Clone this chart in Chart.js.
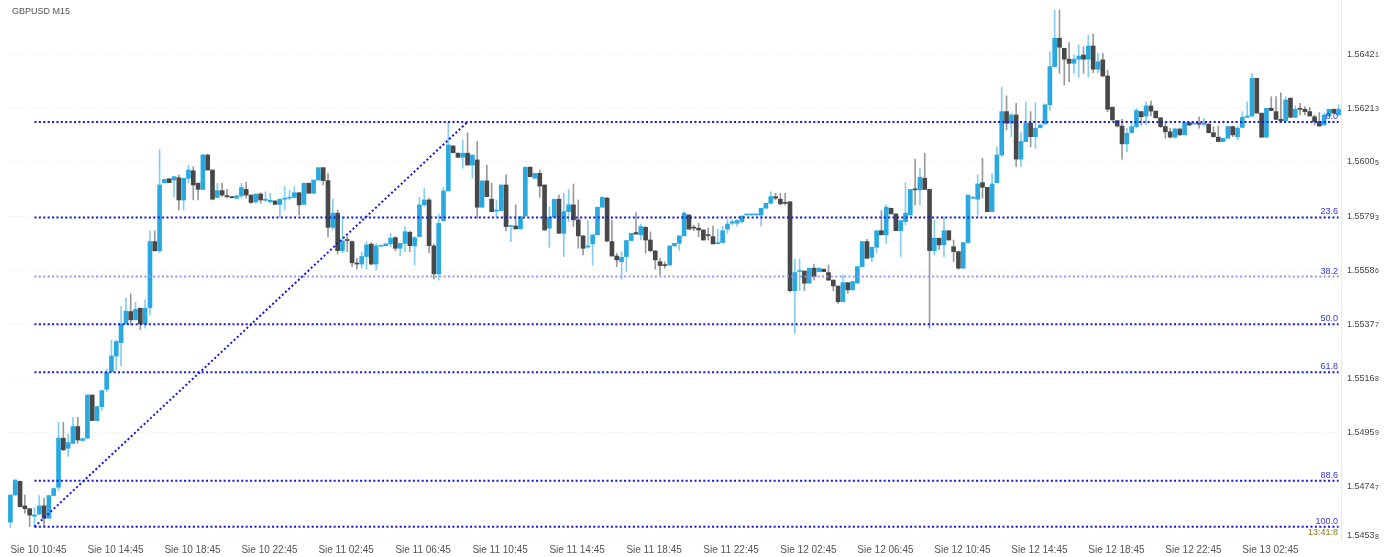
<!DOCTYPE html>
<html>
<head>
<meta charset="utf-8">
<title>GBPUSD M15</title>
<script src="https://cdn.jsdelivr.net/npm/chart.js@4/dist/chart.umd.min.js"></script>
<style>
  html, body { margin: 0; padding: 0; background: #fff; }
  #wrap { width: 1393px; height: 557px; position: relative; }
</style>
</head>
<body>
<div id="wrap"><canvas id="chart"></canvas></div>
<script>

var symbolTitle = 'GBPUSD M15';
var monthName = 'Sie';
var firstBar = { day: 10, hour: 10, minute: 45 };
var barMinutes = 15;
var labelEvery = 16;
var lastLabelBar = 256;

// OHLC of each M15 bar
var opens = [
  1.54611,1.54716,1.54769,1.54674,1.54663,1.54634,1.54642,1.54674,1.54626,1.54714,
  1.54746,1.54936,1.54897,1.54916,1.54981,1.54927,1.54936,1.55103,1.55004,1.55058,
  1.55125,1.55194,1.55254,1.55306,1.55378,1.55426,1.55394,1.55439,1.55378,1.55441,
  1.55697,1.55661,1.55925,1.55940,1.55935,1.55944,1.55858,1.55942,1.55971,1.55923,
  1.55899,1.56032,1.55974,1.55868,1.55894,1.55871,1.55870,1.55865,1.55874,1.55899,
  1.55877,1.55851,1.55881,1.55857,1.55851,1.55854,1.55841,1.55861,1.55865,1.55868,
  1.55886,1.55841,1.55923,1.55884,1.55935,1.55983,1.55933,1.55752,1.55807,1.55662,
  1.55701,1.55697,1.55610,1.55610,1.55639,1.55687,1.55610,1.55679,1.55681,1.55688,
  1.55712,1.55671,1.55690,1.55733,1.55680,1.55716,1.55839,1.55858,1.55680,1.55572,
  1.55777,1.55893,1.56067,1.56039,1.56023,1.56039,1.55993,1.56013,1.55830,1.55932,
  1.55861,1.55815,1.55817,1.55916,1.55755,1.55757,1.55746,1.55796,1.55985,1.55942,
  1.55961,1.55916,1.55749,1.55791,1.55861,1.55729,1.55813,1.55839,1.55781,1.55719,
  1.55676,1.55688,1.55723,1.55830,1.55865,1.55697,1.55641,1.55619,1.55639,1.55701,
  1.55732,1.55723,1.55752,1.55703,1.55661,1.55619,1.55604,1.55606,1.55680,1.55690,
  1.55719,1.55800,1.55749,1.55749,1.55742,1.55720,1.55716,1.55689,1.55693,1.55745,
  1.55768,1.55768,1.55774,1.55800,1.55800,1.55800,1.55800,1.55826,1.55845,1.55871,
  1.55861,1.55845,1.55851,1.55507,1.55581,1.55583,1.55536,1.55594,1.55581,1.55590,
  1.55577,1.55548,1.55525,1.55464,1.55538,1.55510,1.55536,1.55600,1.55697,1.55636,
  1.55675,1.55739,1.55723,1.55826,1.55804,1.55739,1.55774,1.55800,1.55899,1.55897,
  1.55942,1.55899,1.55662,1.55710,1.55684,1.55739,1.55677,1.55658,1.55594,1.55693,
  1.55865,1.55861,1.55925,1.55907,1.55813,1.55925,1.56032,1.56200,1.56155,1.56187,
  1.56016,1.56084,1.56155,1.56103,1.56138,1.56152,1.56226,1.56374,1.56484,1.56445,
  1.56403,1.56387,1.56403,1.56419,1.56403,1.56454,1.56364,1.56400,1.56338,1.56217,
  1.56165,1.56144,1.56075,1.56118,1.56142,1.56200,1.56183,1.56222,1.56202,1.56176,
  1.56142,1.56122,1.56101,1.56133,1.56110,1.56157,1.56152,1.56151,1.56151,1.56151,
  1.56118,1.56101,1.56084,1.56097,1.56142,1.56103,1.56139,1.56178,1.56183,1.56329,
  1.56194,1.56101,1.56213,1.56200,1.56170,1.56165,1.56252,1.56178,1.56209,1.56209,
  1.56200,1.56180,1.56161,1.56148,1.56183,1.56209,1.56187
];
var highs = [
  1.54716,1.54774,1.54771,1.54716,1.54665,1.54667,1.54714,1.54704,1.54714,1.54741,
  1.54998,1.54998,1.54952,1.55017,1.55017,1.54937,1.55103,1.55103,1.55058,1.55120,
  1.55203,1.55316,1.55316,1.55445,1.55478,1.55494,1.55461,1.55439,1.55471,1.55739,
  1.55739,1.56054,1.55938,1.55940,1.55948,1.55955,1.55942,1.55993,1.55987,1.55923,
  1.56036,1.56036,1.55974,1.55923,1.55923,1.55899,1.55872,1.55874,1.55923,1.55927,
  1.55877,1.55881,1.55886,1.55890,1.55884,1.55856,1.55861,1.55910,1.55897,1.55910,
  1.55886,1.55923,1.55923,1.55935,1.55983,1.55983,1.55961,1.55861,1.55819,1.55793,
  1.55716,1.55700,1.55632,1.55658,1.55697,1.55693,1.55690,1.55682,1.55688,1.55729,
  1.55716,1.55690,1.55755,1.55738,1.55716,1.55868,1.55903,1.55865,1.55687,1.55804,
  1.55907,1.56160,1.56068,1.56040,1.56090,1.56118,1.56032,1.56084,1.55932,1.55993,
  1.55923,1.55858,1.55916,1.55955,1.55758,1.55839,1.55793,1.55985,1.55985,1.55961,
  1.55974,1.55916,1.55832,1.55861,1.55877,1.55884,1.55899,1.55920,1.55858,1.55719,
  1.55778,1.55723,1.55830,1.55870,1.55868,1.55781,1.55652,1.55658,1.55701,1.55729,
  1.55809,1.55765,1.55755,1.55735,1.55661,1.55632,1.55619,1.55680,1.55690,1.55719,
  1.55813,1.55800,1.55761,1.55768,1.55742,1.55749,1.55757,1.55745,1.55757,1.55781,
  1.55781,1.55783,1.55796,1.55802,1.55802,1.55802,1.55826,1.55845,1.55890,1.55884,
  1.55884,1.55884,1.55852,1.55629,1.55629,1.55583,1.55594,1.55610,1.55594,1.55591,
  1.55606,1.55548,1.55525,1.55568,1.55538,1.55542,1.55600,1.55697,1.55706,1.55675,
  1.55739,1.55817,1.55839,1.55826,1.55804,1.55778,1.55925,1.55899,1.56016,1.55981,
  1.56039,1.55899,1.55781,1.55710,1.55793,1.55739,1.55703,1.55658,1.55693,1.55877,
  1.55870,1.55955,1.56019,1.55907,1.55959,1.56064,1.56294,1.56261,1.56194,1.56232,
  1.56122,1.56238,1.56200,1.56235,1.56150,1.56230,1.56432,1.56593,1.56593,1.56445,
  1.56467,1.56419,1.56458,1.56451,1.56497,1.56500,1.56426,1.56426,1.56361,1.56218,
  1.56165,1.56170,1.56136,1.56161,1.56213,1.56200,1.56238,1.56241,1.56202,1.56176,
  1.56161,1.56136,1.56136,1.56133,1.56161,1.56158,1.56156,1.56180,1.56174,1.56155,
  1.56142,1.56144,1.56097,1.56144,1.56144,1.56142,1.56200,1.56238,1.56348,1.56329,
  1.56194,1.56213,1.56258,1.56258,1.56273,1.56258,1.56253,1.56222,1.56232,1.56219,
  1.56217,1.56187,1.56196,1.56194,1.56209,1.56209,1.56226
];
var lows = [
  1.54590,1.54716,1.54669,1.54646,1.54594,1.54593,1.54640,1.54594,1.54626,1.54712,
  1.54733,1.54888,1.54865,1.54916,1.54916,1.54925,1.54936,1.55004,1.55004,1.55043,
  1.55116,1.55194,1.55200,1.55216,1.55378,1.55374,1.55394,1.55355,1.55362,1.55413,
  1.55661,1.55654,1.55925,1.55925,1.55871,1.55819,1.55819,1.55923,1.55858,1.55858,
  1.55897,1.55974,1.55858,1.55865,1.55871,1.55865,1.55865,1.55865,1.55865,1.55865,
  1.55845,1.55845,1.55845,1.55851,1.55845,1.55840,1.55791,1.55819,1.55858,1.55865,
  1.55800,1.55841,1.55884,1.55884,1.55935,1.55916,1.55716,1.55742,1.55649,1.55654,
  1.55658,1.55600,1.55590,1.55594,1.55590,1.55606,1.55587,1.55678,1.55681,1.55677,
  1.55662,1.55642,1.55658,1.55658,1.55606,1.55716,1.55832,1.55654,1.55551,1.55548,
  1.55777,1.55893,1.56040,1.56022,1.55981,1.55993,1.55942,1.55787,1.55830,1.55871,
  1.55813,1.55793,1.55817,1.55739,1.55697,1.55746,1.55746,1.55796,1.55948,1.55942,
  1.55868,1.55740,1.55675,1.55791,1.55729,1.55639,1.55774,1.55755,1.55671,1.55645,
  1.55671,1.55606,1.55723,1.55830,1.55697,1.55641,1.55600,1.55551,1.55581,1.55701,
  1.55726,1.55703,1.55652,1.55658,1.55590,1.55568,1.55594,1.55606,1.55680,1.55662,
  1.55719,1.55745,1.55739,1.55716,1.55703,1.55703,1.55688,1.55688,1.55693,1.55729,
  1.55761,1.55757,1.55768,1.55799,1.55799,1.55799,1.55757,1.55826,1.55845,1.55858,
  1.55839,1.55839,1.55502,1.55342,1.55507,1.55507,1.55536,1.55548,1.55581,1.55580,
  1.55546,1.55507,1.55458,1.55464,1.55497,1.55510,1.55536,1.55600,1.55632,1.55619,
  1.55654,1.55723,1.55690,1.55804,1.55739,1.55639,1.55761,1.55800,1.55839,1.55839,
  1.55897,1.55362,1.55645,1.55665,1.55639,1.55703,1.55619,1.55590,1.55594,1.55693,
  1.55863,1.55800,1.55865,1.55813,1.55813,1.55925,1.56026,1.56129,1.56103,1.55987,
  1.55987,1.56084,1.56064,1.56058,1.56136,1.56152,1.56206,1.56374,1.56348,1.56303,
  1.56316,1.56348,1.56333,1.56348,1.56333,1.56351,1.56351,1.56335,1.56200,1.56166,
  1.56141,1.56016,1.56045,1.56118,1.56136,1.56148,1.56148,1.56183,1.56175,1.56138,
  1.56097,1.56097,1.56097,1.56108,1.56110,1.56146,1.56151,1.56136,1.56144,1.56118,
  1.56101,1.56084,1.56084,1.56097,1.56103,1.56090,1.56139,1.56178,1.56180,1.56194,
  1.56101,1.56101,1.56204,1.56168,1.56161,1.56161,1.56177,1.56178,1.56187,1.56187,
  1.56183,1.56148,1.56144,1.56148,1.56183,1.56194,1.56187
];
var closes = [
  1.54716,1.54774,1.54671,1.54663,1.54638,1.54639,1.54674,1.54626,1.54714,1.54741,
  1.54936,1.54891,1.54919,1.54981,1.54929,1.54934,1.55103,1.55004,1.55058,1.55120,
  1.55190,1.55254,1.55310,1.55378,1.55428,1.55394,1.55435,1.55378,1.55439,1.55697,
  1.55661,1.55916,1.55938,1.55925,1.55948,1.55858,1.55942,1.55974,1.55916,1.55899,
  1.56032,1.55974,1.55861,1.55894,1.55877,1.55871,1.55867,1.55874,1.55906,1.55877,
  1.55848,1.55881,1.55858,1.55861,1.55857,1.55841,1.55861,1.55865,1.55868,1.55886,
  1.55839,1.55923,1.55884,1.55935,1.55983,1.55933,1.55752,1.55807,1.55662,1.55699,
  1.55701,1.55615,1.55610,1.55639,1.55684,1.55610,1.55680,1.55681,1.55688,1.55710,
  1.55671,1.55690,1.55735,1.55681,1.55712,1.55839,1.55858,1.55681,1.55572,1.55768,
  1.55893,1.56071,1.56041,1.56023,1.56039,1.55993,1.56032,1.55830,1.55932,1.55871,
  1.55813,1.55817,1.55916,1.55755,1.55757,1.55746,1.55793,1.55985,1.55948,1.55961,
  1.55912,1.55742,1.55791,1.55861,1.55729,1.55813,1.55839,1.55781,1.55719,1.55671,
  1.55677,1.55723,1.55830,1.55868,1.55699,1.55641,1.55626,1.55636,1.55701,1.55729,
  1.55726,1.55755,1.55703,1.55662,1.55626,1.55604,1.55604,1.55680,1.55690,1.55719,
  1.55807,1.55745,1.55749,1.55742,1.55703,1.55720,1.55688,1.55690,1.55739,1.55765,
  1.55774,1.55778,1.55796,1.55801,1.55801,1.55801,1.55826,1.55845,1.55871,1.55865,
  1.55843,1.55845,1.55507,1.55577,1.55583,1.55536,1.55594,1.55561,1.55594,1.55581,
  1.55548,1.55525,1.55464,1.55538,1.55510,1.55542,1.55600,1.55697,1.55632,1.55675,
  1.55739,1.55723,1.55830,1.55804,1.55739,1.55778,1.55807,1.55899,1.55897,1.55946,
  1.55899,1.55662,1.55710,1.55684,1.55739,1.55703,1.55658,1.55594,1.55693,1.55877,
  1.55868,1.55920,1.55907,1.55813,1.55920,1.56032,1.56200,1.56155,1.56187,1.56016,
  1.56084,1.56155,1.56103,1.56136,1.56148,1.56226,1.56374,1.56484,1.56449,1.56403,
  1.56387,1.56403,1.56415,1.56403,1.56454,1.56364,1.56393,1.56338,1.56209,1.56168,
  1.56144,1.56075,1.56116,1.56142,1.56204,1.56180,1.56222,1.56202,1.56176,1.56142,
  1.56122,1.56101,1.56133,1.56110,1.56157,1.56148,1.56155,1.56151,1.56152,1.56118,
  1.56103,1.56084,1.56097,1.56142,1.56110,1.56136,1.56178,1.56183,1.56329,1.56194,
  1.56101,1.56213,1.56204,1.56170,1.56164,1.56245,1.56178,1.56209,1.56209,1.56200,
  1.56183,1.56161,1.56144,1.56187,1.56209,1.56194,1.56209
];

// price scale
var priceMin = 1.54538;
var priceMax = 1.56632;
var priceTicks = [1.54538, 1.54747, 1.54959, 1.55168, 1.55377, 1.55586, 1.55793, 1.56005, 1.56213, 1.56421];

// fibonacci retracement drawn on the chart
var fibHigh = 1.56160;
var fibLow = 1.54593;
var fibStartBar = 5;
var fibEndBar = 95;
var fibLevels = [0, 23.6, 38.2, 50, 61.8, 88.6, 100];
var fibTexts = ['0.0', '23.6', '38.2', '50.0', '61.8', '88.6', '100.0'];
var timerText = '13:41:8';

var FONT = '"Liberation Sans", Arial, sans-serif';

function buildTimes(n) {
  var out = [];
  for (var i = 0; i < n; i++) {
    var m = firstBar.hour * 60 + firstBar.minute + i * barMinutes;
    var d = firstBar.day + Math.floor(m / 1440);
    m = m % 1440;
    var hh = ('0' + Math.floor(m / 60)).slice(-2);
    var mm = ('0' + (m % 60)).slice(-2);
    out.push(monthName + ' ' + d + ' ' + hh + ':' + mm);
  }
  return out;
}

function fibPrice(level) {
  return fibHigh - (fibHigh - fibLow) * level / 100;
}

var times = buildTimes(opens.length);

var bodies = [], wicks = [], bodyColors = [], wickColors = [];
for (var i = 0; i < opens.length; i++) {
  var up = closes[i] > opens[i];
  bodies.push([opens[i], closes[i]]);
  wicks.push([lows[i], highs[i]]);
  bodyColors.push(up ? '#2aa9e0' : '#484848');
  wickColors.push(up ? '#86cdef' : '#9a9a9a');
}

var datasets = [];

fibLevels.forEach(function(lv) {
  var p = fibPrice(lv);
  datasets.push({
    type: 'line',
    data: times.map(function(t, k) { return k >= fibStartBar ? p : null; }),
    borderColor: lv === 38.2 ? '#9696f2' : '#1414e4',
    borderWidth: 2,
    borderDash: [2, 2.4],
    pointRadius: 0,
    fill: false,
    order: 0
  });
});

// trend line of the fibo tool
datasets.push({
  type: 'line',
  data: times.map(function(t, k) {
    if (k === fibStartBar) return fibLow;
    if (k === fibEndBar) return fibHigh;
    return null;
  }),
  spanGaps: true,
  borderColor: '#1414e4',
  borderWidth: 2,
  borderDash: [2, 2.4],
  pointRadius: 0,
  fill: false,
  order: 0
});

datasets.push({
  type: 'bar',
  data: bodies,
  backgroundColor: bodyColors,
  barThickness: 4,
  minBarLength: 1,
  grouped: false,
  order: 1
});

datasets.push({
  type: 'bar',
  data: wicks,
  backgroundColor: wickColors,
  barThickness: 1,
  grouped: false,
  order: 2
});

// price labels like the terminal: last digit smaller
var priceLabelPlugin = {
  id: 'priceLabels',
  afterDraw: function(chart) {
    var ctx = chart.ctx;
    var area = chart.chartArea;
    var y = chart.scales.y;
    ctx.save();
    ctx.fillStyle = '#444';
    ctx.textAlign = 'left';
    ctx.textBaseline = 'middle';
    priceTicks.forEach(function(v) {
      var s = v.toFixed(5);
      var py = Math.min(y.getPixelForValue(v), area.bottom - 5);
      var px = area.right + 6;
      ctx.font = '9px ' + FONT;
      var head = s.slice(0, -1);
      ctx.fillText(head, px, py);
      var w = ctx.measureText(head).width;
      ctx.font = '7px ' + FONT;
      ctx.fillText(s.slice(-1), px + w + 0.5, py + 1);
    });
    ctx.restore();
  }
};

var textPlugin = {
  id: 'mtTexts',
  afterDatasetsDraw: function(chart) {
    var ctx = chart.ctx;
    var area = chart.chartArea;
    var y = chart.scales.y;
    ctx.save();

    ctx.font = '9px ' + FONT;
    ctx.fillStyle = '#3434ee';
    ctx.textAlign = 'right';
    ctx.textBaseline = 'bottom';
    fibLevels.forEach(function(lv, k) {
      ctx.fillText(fibTexts[k], area.right - 3, y.getPixelForValue(fibPrice(lv)) - 1);
    });

    ctx.fillStyle = '#8a7a10';
    ctx.textBaseline = 'top';
    ctx.fillText(timerText, area.right - 3, y.getPixelForValue(fibLow) + 1);

    ctx.fillStyle = '#555';
    ctx.textAlign = 'left';
    ctx.textBaseline = 'middle';
    ctx.fillText(symbolTitle, 12, 12);
    ctx.restore();
  }
};

var ctx = document.getElementById('chart').getContext('2d');
new Chart(ctx, {
  type: 'bar',
  data: {
    labels: times,
    datasets: datasets
  },
  options: {
    responsive: true,
    maintainAspectRatio: false,
    animation: false,
    layout: { padding: { left: 8, top: 0, right: 0, bottom: 0 } },
    plugins: {
      legend: { display: false },
      tooltip: { enabled: false },
      title: { display: false }
    },
    scales: {
      x: {
        type: 'category',
        offset: true,
        grid: { display: false, drawTicks: false },
        border: { display: false },
        ticks: {
          autoSkip: false,
          maxRotation: 0,
          minRotation: 0,
          align: 'start',
          padding: 3,
          color: '#555',
          font: { size: 10, family: FONT },
          callback: function(v, idx) {
            return (idx % labelEvery === 0 && idx <= lastLabelBar) ? times[idx] : null;
          }
        },
        afterFit: function(scale) {
          scale.height = 16;
          scale.paddingLeft = 0;
          scale.paddingRight = 0;
        }
      },
      y: {
        type: 'linear',
        position: 'right',
        min: priceMin,
        max: priceMax,
        grid: { color: '#ececec', drawTicks: false },
        border: { display: true, color: '#e8e8e8', dash: [1, 2] },
        afterBuildTicks: function(scale) {
          scale.ticks = priceTicks.map(function(v) { return { value: v }; });
        },
        ticks: { display: false },
        afterFit: function(scale) {
          scale.width = 52;
          scale.paddingTop = 0;
          scale.paddingBottom = 0;
        }
      }
    }
  },
  plugins: [textPlugin, priceLabelPlugin]
});

</script>
</body>
</html>
